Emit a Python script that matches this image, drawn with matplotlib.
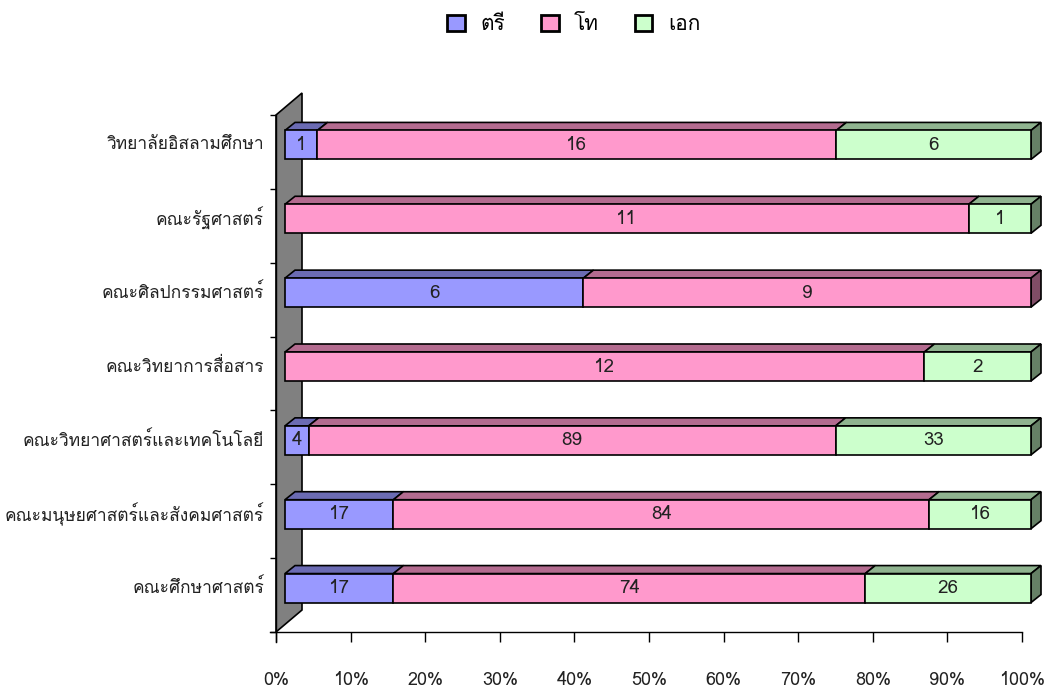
import numpy as np
import matplotlib
matplotlib.use("Agg")
import matplotlib.pyplot as plt
from matplotlib import font_manager
from matplotlib.ft2font import FT2Font
from matplotlib.patches import Polygon, Rectangle

# pick an installed font that has Thai glyphs
thai_font = None
for f in font_manager.fontManager.ttflist:
    try:
        if 0x0E01 in FT2Font(f.fname).get_charmap():
            thai_font = f.name
            break
    except Exception:
        pass
families = [thai_font, "DejaVu Sans"] if thai_font else ["DejaVu Sans"]
plt.rcParams['font.family'] = families

categories = ["คณะศึกษาศาสตร์", "คณะมนุษยศาสตร์และสังคมศาสตร์", "คณะวิทยาศาสตร์และเทคโนโลยี",
              "คณะวิทยาการสื่อสาร", "คณะศิลปกรรมศาสตร์", "คณะรัฐศาสตร์", "วิทยาลัยอิสลามศึกษา"]
series = ["ตรี", "โท", "เอก"]
tri = [17, 17, 4, 0, 6, 0, 1]
tho = [74, 84, 89, 12, 9, 11, 16]
ek = [26, 16, 33, 2, 0, 1, 6]
xticks = [0, 10, 20, 30, 40, 50, 60, 70, 80, 90, 100]

front = ["#9999FF", "#FF99CC", "#CCFFCC"]
top = ["#6B6BB3", "#B36B8F", "#8FB38F"]
side = ["#4D4D80", "#804D66", "#668066"]

W, H = 1053, 697
fig = plt.figure(figsize=(W / 100, H / 100), dpi=100)
ax_l, ax_r, ax_b, ax_t = 276, 1022, 632, 115
ax = fig.add_axes([ax_l / W, (H - ax_b) / H, (ax_r - ax_l) / W, (ax_b - ax_t) / H])
ax.set_xlim(0, 100)
ax.set_ylim(-0.5, 6.5)
for s in ax.spines.values():
    s.set_visible(False)

# pixel -> data conversions
px_x = 100 / (ax_r - ax_l)
px_y = 7 / (ax_b - ax_t)

# back wall
wdx, wdy = 26 * px_x, 22 * px_y
ax.add_patch(Polygon([(0, -0.5), (0, 6.5), (wdx, 6.5 + wdy), (wdx, -0.5 + wdy)],
                     closed=True, fc="#808080", ec="black", lw=1.2, clip_on=False, zorder=1))

ox, oy = 9 * px_x, 7 * px_y
ddx, ddy = 10 * px_x, 8 * px_y
h = 29 * px_y

data = np.array([tri, tho, ek], dtype=float)
pct = data / data.sum(axis=0) * 100
for i in range(len(categories)):
    yb = i + oy - h / 2
    yt = i + oy + h / 2
    left = 0.0
    last = max(k for k in range(3) if data[k, i] > 0)
    for k in range(3):
        w = pct[k, i]
        if w <= 0:
            continue
        a = left + ox
        b = left + w + ox
        ax.add_patch(Polygon([(a, yt), (b, yt), (b + ddx, yt + ddy), (a + ddx, yt + ddy)],
                             closed=True, fc=top[k], ec="black", lw=1.2, clip_on=False, zorder=2))
        if k == last:
            ax.add_patch(Polygon([(b, yb), (b, yt), (b + ddx, yt + ddy), (b + ddx, yb + ddy)],
                                 closed=True, fc=side[k], ec="black", lw=1.2, clip_on=False, zorder=2))
        ax.add_patch(Rectangle((a, yb), w, h, fc=front[k], ec="black", lw=1.2,
                               clip_on=False, zorder=3))
        ax.text((a + b) / 2, i + oy, str(int(data[k, i])), ha="center", va="center",
                fontsize=13.5, color="#222222", zorder=4)
        left += w

# axis lines
ax.plot([-6 * px_x, 100], [-0.5, -0.5], color="black", lw=1, clip_on=False, zorder=5)
ax.plot([0, 0], [-0.5 - 10 * px_y, 6.5], color="black", lw=1, clip_on=False, zorder=5)
ax.set_xticks(xticks)
ax.set_xticklabels([f"{t}%" for t in xticks], fontsize=13, color="#222222")
ax.tick_params(axis="x", direction="out", length=7.2, width=1, pad=21)
ax.set_yticks(np.arange(-0.5, 7, 1))
ax.set_yticklabels([])
ax.tick_params(axis="y", direction="out", length=4.5, width=1)
for i, c in enumerate(categories):
    ax.text(-12 * px_x, i + oy, c, ha="right", va="center", fontsize=12.5, color="#222222")

handles = [Rectangle((0, 0), 1, 1, fc=front[k], ec="black", lw=2) for k in range(3)]
fig.legend(handles, series, loc="upper center", bbox_to_anchor=(0.545, 1.0), ncol=3,
           frameon=False, fontsize=15, handlelength=0.85, handleheight=0.85,
           handletextpad=0.75, columnspacing=1.7, borderaxespad=0.3)

fig.savefig("out.png", dpi=100)
